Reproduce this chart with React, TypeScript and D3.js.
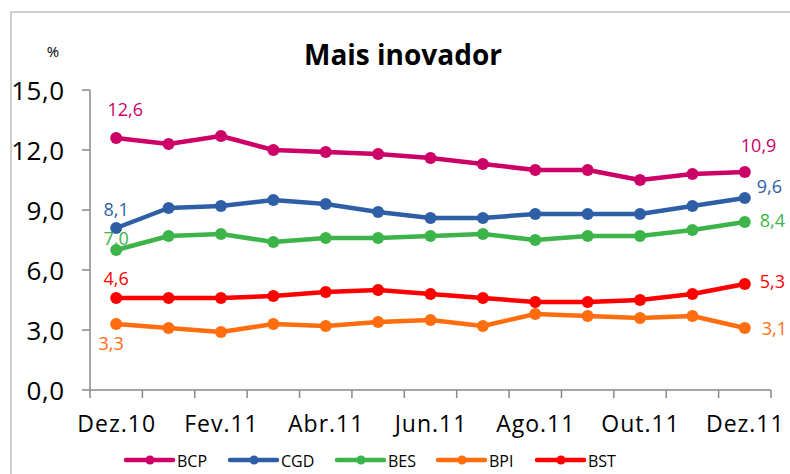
import React, { useEffect } from "react";
import { scaleLinear, scaleBand, line } from "d3";

const months = ["Dez.10", "Jan.11", "Fev.11", "Mar.11", "Abr.11", "Mai.11", "Jun.11", "Jul.11", "Ago.11", "Set.11", "Out.11", "Nov.11", "Dez.11"];
const shownLabels = ["Dez.10", "Fev.11", "Abr.11", "Jun.11", "Ago.11", "Out.11", "Dez.11"];
const yTicks = [0, 3, 6, 9, 12, 15];

const bcp = [12.6, 12.3, 12.7, 12.0, 11.9, 11.8, 11.6, 11.3, 11.0, 11.0, 10.5, 10.8, 10.9];
const cgd = [8.1, 9.1, 9.2, 9.5, 9.3, 8.9, 8.6, 8.6, 8.8, 8.8, 8.8, 9.2, 9.6];
const bes = [7.0, 7.7, 7.8, 7.4, 7.6, 7.6, 7.7, 7.8, 7.5, 7.7, 7.7, 8.0, 8.4];
const bpi = [3.3, 3.1, 2.9, 3.3, 3.2, 3.4, 3.5, 3.2, 3.8, 3.7, 3.6, 3.7, 3.1];
const bst = [4.6, 4.6, 4.6, 4.7, 4.9, 5.0, 4.8, 4.6, 4.4, 4.4, 4.5, 4.8, 5.3];

const seriesNames = ["BCP", "CGD", "BES", "BPI", "BST"];
const seriesColors = ["#cc0066", "#2e5fa6", "#3cb449", "#ff6d0f", "#ff0000"];

const font = "'Open Sans', 'Noto Sans', sans-serif";
const fmt = (v: number) => v.toFixed(1).replace(".", ",");

export default function App() {
  useEffect(() => {
    document.body.style.margin = "0";
  }, []);

  const series = [bcp, cgd, bes, bpi, bst];

  const x = scaleBand<string>().domain(months).range([90, 771]);
  const y = scaleLinear().domain([0, 15]).range([390, 90]);
  const cx = (i: number) => (x(months[i]) as number) + x.bandwidth() / 2;

  const path = line<number>()
    .x((d, i) => cx(i))
    .y((d) => y(d));

  // first / last value labels: [dx, dy, anchor]   order BCP, CGD, BES, BPI, BST
  const firstOff: [number, number, string][] = [
    [9, -22, "middle"], [0, -12, "middle"], [0, -5, "middle"], [-5, 26, "middle"], [0, -13, "middle"],
  ];
  const lastOff: [number, number, string][] = [
    [-4, -20, "start"], [12, -5, "start"], [15, 5, "start"], [17, 7, "start"], [15, 4, "start"],
  ];

  const last = months.length - 1;
  const legendX = [126, 230, 337, 438, 537];

  return (
    <svg width={790} height={474} style={{ display: "block", background: "#fff" }}>
      <rect x={11} y={12} width={800} height={480} fill="#fff" stroke="#bfbfbf" strokeWidth={1.5} />

      <text x={403} y={65} textAnchor="middle" fontFamily={font} fontWeight="bold" fontSize={28} fill="#000">
        Mais inovador
      </text>
      <text x={53} y={57} textAnchor="middle" fontFamily={font} fontSize={15} fill="#000">%</text>

      {/* y axis */}
      <line x1={90} x2={90} y1={y(15)} y2={y(0)} stroke="#898989" strokeWidth={1.5} />
      {yTicks.map((t) => (
        <g key={t}>
          <line x1={82} x2={90} y1={y(t)} y2={y(t)} stroke="#898989" strokeWidth={1.5} />
          <text x={64.5} y={y(t) + 9.5} textAnchor="end" fontFamily={font} fontSize={26} letterSpacing={0.5} fill="#000">
            {fmt(t)}
          </text>
        </g>
      ))}

      {/* x axis */}
      <line x1={90} x2={771} y1={y(0)} y2={y(0)} stroke="#898989" strokeWidth={1.5} />
      {months.concat([""]).map((m, i) => {
        const xx = i < months.length ? (x(m) as number) : 771;
        return <line key={i} x1={xx} x2={xx} y1={y(0)} y2={y(0) + 8} stroke="#898989" strokeWidth={1.5} />;
      })}
      {months.map((m, i) =>
        shownLabels.includes(m) ? (
          <text key={m} x={cx(i) + 0.5} y={432} textAnchor="middle" fontFamily={font} fontSize={23} letterSpacing={1} fill="#000">
            {m}
          </text>
        ) : null
      )}

      {/* series */}
      {series.map((s, k) => (
        <g key={seriesNames[k]}>
          <path d={path(s) as string} fill="none" stroke={seriesColors[k]} strokeWidth={4.5} strokeLinejoin="round" />
          {s.map((v, i) => (
            <circle key={i} cx={cx(i)} cy={y(v)} r={6} fill={seriesColors[k]} />
          ))}
          <text x={cx(0) + firstOff[k][0]} y={y(s[0]) + firstOff[k][1]} textAnchor={firstOff[k][2]}
            fontFamily={font} fontSize={18} fill={seriesColors[k]}>
            {fmt(s[0])}
          </text>
          <text x={cx(last) + lastOff[k][0]} y={y(s[last]) + lastOff[k][1]} textAnchor={lastOff[k][2]}
            fontFamily={font} fontSize={18} fill={seriesColors[k]}>
            {fmt(s[last])}
          </text>
        </g>
      ))}

      {/* legend */}
      {seriesNames.map((n, k) => (
        <g key={n} transform={`translate(${legendX[k]},460)`}>
          <line x1={0} x2={47} y1={0} y2={0} stroke={seriesColors[k]} strokeWidth={4.5} strokeLinecap="round" />
          <circle cx={24} cy={0} r={4.5} fill={seriesColors[k]} />
          <text x={51} y={6.5} fontFamily={font} fontSize={16} fill="#000">{n}</text>
        </g>
      ))}
    </svg>
  );
}
